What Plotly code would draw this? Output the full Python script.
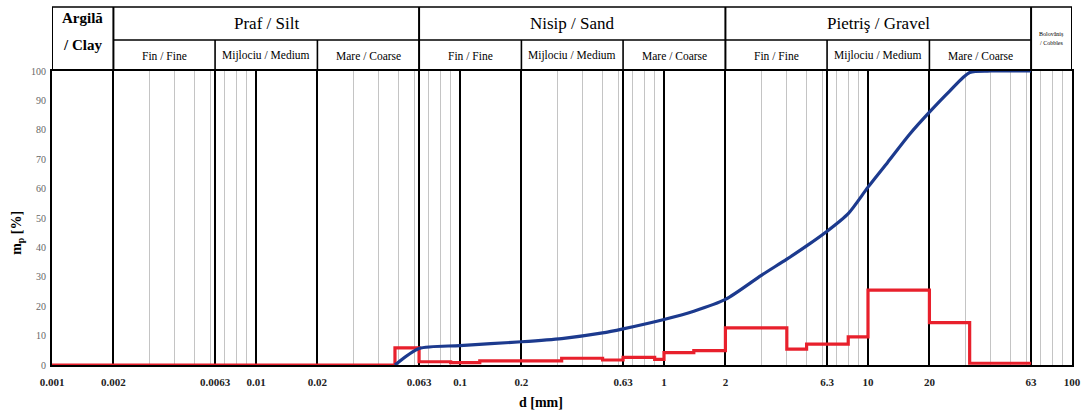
import numpy as np
import plotly.graph_objects as go

# Cumulative passing curve (grain size d in mm, % passing)
curve_d = [0.048, 0.063, 0.1, 0.2, 0.315, 0.5, 0.63, 1.0, 1.4, 2.0, 3.0, 4.0, 5.0, 6.3, 8.0,
           10.0, 12.5, 16.0, 20.0, 25.0, 31.5, 40.0, 63.0]
curve_pct = [0.0, 5.6, 6.6, 7.9, 9.0, 10.9, 12.3, 15.5, 18.3, 22.3, 30.5, 36.0, 40.5, 45.5, 51.5,
             60.5, 69.0, 78.5, 86.0, 93.0, 99.5, 100.0, 100.0]

# Fraction retained per size interval (bin edges in mm, % per bin)
bin_edges = [0.001, 0.048, 0.063, 0.09, 0.125, 0.315, 0.5, 0.63, 0.9, 1.0, 1.4, 2.0,
             4.0, 5.0, 8.0, 10.0, 20.0, 31.5, 63.0]
bin_pct = [0.0, 5.8, 1.1, 0.8, 1.4, 2.3, 1.7, 2.6, 1.9, 4.2, 4.9, 12.6,
           5.4, 7.1, 9.6, 25.5, 14.4, 0.6]

# Axis ticks
x_tickvals = [0.001, 0.002, 0.0063, 0.01, 0.02, 0.063, 0.1, 0.2, 0.63, 1, 2, 6.3, 10, 20, 63, 100]
x_ticktext = ["0.001", "0.002", "0.0063", "0.01", "0.02", "0.063", "0.1", "0.2", "0.63",
              "1", "2", "6.3", "10", "20", "63", "100"]
minor_vals = [m * 10.0 ** e for e in range(-3, 2) for m in (3, 4, 5, 6, 7, 8, 9)]
y_tickvals = list(range(0, 101, 10))

# Classification header
main_classes = [("Praf / Silt", 0.002, 0.063),
                ("Nisip / Sand", 0.063, 2.0),
                ("Pietriş / Gravel", 2.0, 63.0)]
clay_lines = ["Argilă", "/ Clay"]
sub_classes = [("Fin / Fine", 0.002, 0.0063), ("Mijlociu / Medium", 0.0063, 0.02),
               ("Mare / Coarse", 0.02, 0.063),
               ("Fin / Fine", 0.063, 0.2), ("Mijlociu / Medium", 0.2, 0.63),
               ("Mare / Coarse", 0.63, 2.0),
               ("Fin / Fine", 2.0, 6.3), ("Mijlociu / Medium", 6.3, 20.0),
               ("Mare / Coarse", 20.0, 63.0)]
cobble_lines = ["Bolovăniș", "/ Cobbles"]

SERIF = "Liberation Serif"
Y_TOP = 0.8212      # top of plotting area (paper)
Y_MID = 0.9078      # split between header rows
Y_HEAD = 1.0        # top of header


def log_mid(a, b):
    return (np.log10(a) + np.log10(b)) / 2


fig = go.Figure()

fig.add_trace(go.Scatter(
    x=bin_edges, y=bin_pct + [bin_pct[-1]], mode="lines",
    line=dict(color="#e8202c", width=3.2, shape="hv"), hoverinfo="skip"))

fig.add_trace(go.Scatter(
    x=curve_d, y=curve_pct, mode="lines",
    line=dict(color="#1c3a8e", width=3.2, shape="spline", smoothing=0.7), hoverinfo="skip"))

shapes = []
line_k = dict(color="black", width=1.6)
# header outline
shapes.append(dict(type="line", xref="x", yref="paper", x0=0.001, x1=100, y0=Y_HEAD, y1=Y_HEAD, line=line_k))
shapes.append(dict(type="line", xref="x", yref="paper", x0=0.002, x1=63, y0=Y_MID, y1=Y_MID, line=line_k))
for xv in (0.001, 0.002, 0.063, 2.0, 63.0, 100.0):
    shapes.append(dict(type="line", xref="x", yref="paper", x0=xv, x1=xv, y0=Y_TOP, y1=Y_HEAD,
                       line=dict(color="black", width=2)))
for xv in (0.0063, 0.02, 0.2, 0.63, 6.3, 20.0):
    shapes.append(dict(type="line", xref="x", yref="paper", x0=xv, x1=xv, y0=Y_TOP, y1=Y_MID,
                       line=dict(color="black", width=1.6)))

annotations = []


def label(text, x, y, size, xref="x", yref="paper", **kw):
    annotations.append(dict(text=text, x=x, y=y, xref=xref, yref=yref, xanchor="center",
                            yanchor="middle", showarrow=False,
                            font=dict(family=SERIF, size=size, color="black"), **kw))


for text, a, b in main_classes:
    label(text, log_mid(a, b), (Y_MID + Y_HEAD) / 2, 17)
for text, a, b in sub_classes:
    label(text, log_mid(a, b), (Y_TOP + Y_MID) / 2, 11.5)
label("<b>" + clay_lines[0] + "</b>", log_mid(0.001, 0.002), (365 - 18) / 358, 15)
label("<b>" + clay_lines[1] + "</b>", log_mid(0.001, 0.002), (365 - 45) / 358, 15)
label(cobble_lines[0], log_mid(63, 100), (365 - 34) / 358, 6)
label(cobble_lines[1], log_mid(63, 100), (365 - 43) / 358, 6)

label("<b>d [mm]</b>", 0.479, -0.105, 14, xref="paper")
label("<b>m<sub>p</sub> [%]</b>", -0.034, 0.37, 14, xref="paper", textangle=-90)

fig.update_layout(
    width=1086, height=416,
    margin=dict(l=52, r=14, t=7, b=51),
    paper_bgcolor="white", plot_bgcolor="white",
    showlegend=False,
    shapes=shapes, annotations=annotations,
    xaxis=dict(type="log", range=[-3, 2], tickvals=x_tickvals, ticktext=x_ticktext,
               showgrid=True, gridcolor="black", gridwidth=1.8, automargin=False,
               showline=True, linecolor="black", linewidth=2, mirror=True,
               ticks="outside", ticklen=6, tickcolor="rgba(0,0,0,0)",
               tickfont=dict(family=SERIF, size=11, color="#222", weight="bold"),
               minor=dict(tickvals=minor_vals, showgrid=True, gridcolor="#c4c4c4", gridwidth=1, ticks=""),
               zeroline=False),
    yaxis=dict(range=[0, 100], domain=[0, Y_TOP], tickvals=y_tickvals, showgrid=False,
               showline=True, linecolor="black", linewidth=2, mirror=True, automargin=False,
               ticks="outside", ticklen=2, tickcolor="rgba(0,0,0,0)",
               tickfont=dict(family=SERIF, size=10, color="#666"), zeroline=False),
)

fig.write_html("out.html")
